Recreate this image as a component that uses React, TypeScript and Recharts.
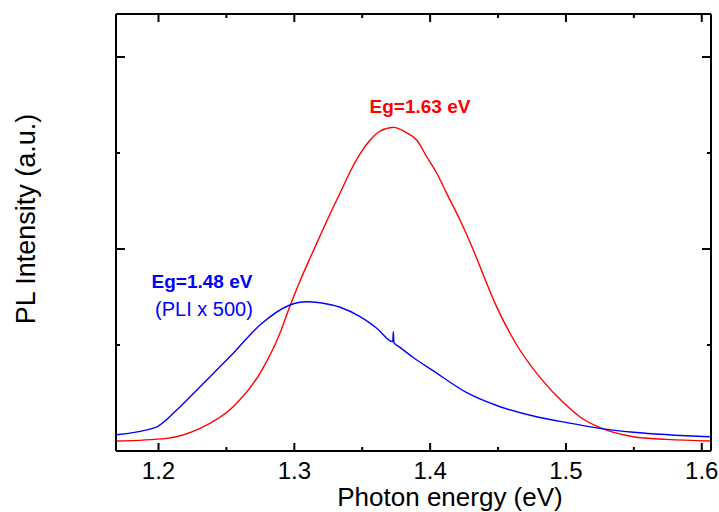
import { Line, LineChart, XAxis, YAxis } from "recharts";

const font = "'Liberation Sans', Arial, sans-serif";

// photon energy (eV) / PL intensity
const redEnergy = [
  1.169, 1.206, 1.2306, 1.255, 1.2747, 1.2895, 1.2968, 1.3042, 1.3116, 1.3189, 1.3263, 1.3337, 1.341,
  1.3484, 1.3558, 1.3631, 1.3729, 1.3828, 1.3901, 1.3975, 1.4049, 1.4122, 1.422, 1.4318, 1.4416,
  1.4478, 1.4638, 1.481, 1.4981, 1.5104, 1.5251, 1.5497, 1.5742, 1.606,
];
const redIntensity = [
  0.0, 0.028, 0.132, 0.357, 0.705, 1.125, 1.406, 1.667, 1.906, 2.135, 2.365, 2.583, 2.802, 2.99,
  3.135, 3.229, 3.267, 3.21, 3.135, 2.961, 2.789, 2.58, 2.302, 1.99, 1.643, 1.434, 1.0, 0.66,
  0.4, 0.25, 0.139, 0.045, 0.017, 0.0,
];

const blueEnergy = [
  1.169, 1.1974, 1.2134, 1.2306, 1.255, 1.2747, 1.2968, 1.3091, 1.319, 1.3337, 1.3484, 1.3607,
  1.3725, 1.3729, 1.3733, 1.3778, 1.3876, 1.4024, 1.427, 1.4515, 1.476, 1.5006, 1.525, 1.5496, 1.606,
];
const blueIntensity = [
  0.066, 0.139, 0.323, 0.566, 0.914, 1.208, 1.417, 1.451, 1.44, 1.393, 1.295, 1.175, 1.035, 1.138,
  1.025, 0.975, 0.87, 0.73, 0.503, 0.357, 0.26, 0.191, 0.132, 0.091, 0.045,
];

const xTicks = [1.2, 1.25, 1.3, 1.35, 1.4, 1.45, 1.5, 1.55, 1.6];
const xMajor = [1.2, 1.3, 1.4, 1.5, 1.6];
const yTicks = [1, 2, 3, 4];
const yMajor = [2, 4];

const redData = redEnergy.map((e, i) => ({ e, v: redIntensity[i] }));
const blueData = blueEnergy.map((e, i) => ({ e, v: blueIntensity[i] }));

const xDomain = [1.1687, 1.6068];
const yDomain = [-0.104, 4.448];

const isMajorX = (v: number) => xMajor.some((m) => Math.abs(m - v) < 1e-6);
const isMajorY = (v: number) => yMajor.some((m) => Math.abs(m - v) < 1e-6);

function BottomTick({ x, y, payload }: any) {
  const major = isMajorX(payload.value);
  return (
    <g>
      <line x1={x} x2={x} y1={y} y2={y - (major ? 8 : 4)} stroke="#000" strokeWidth={2} />
      {major && (
        <text x={x} y={y + 28} textAnchor="middle" fontSize={24} fontFamily={font} fill="#000">
          {payload.value.toFixed(1)}
        </text>
      )}
    </g>
  );
}

function TopTick({ x, y, payload }: any) {
  const major = isMajorX(payload.value);
  return <line x1={x} x2={x} y1={y} y2={y + (major ? 8 : 4)} stroke="#000" strokeWidth={2} />;
}

function LeftTick({ x, y, payload }: any) {
  const major = isMajorY(payload.value);
  return <line x1={x} x2={x + (major ? 9 : 4)} y1={y} y2={y} stroke="#000" strokeWidth={2} />;
}

function RightTick({ x, y, payload }: any) {
  const major = isMajorY(payload.value);
  return <line x1={x} x2={x - (major ? 9 : 4)} y1={y} y2={y} stroke="#000" strokeWidth={2} />;
}

const axisLine = { stroke: "#000", strokeWidth: 2 };

export default function App() {
  return (
    <div style={{ position: "absolute", left: 0, top: 0, background: "#fff" }}>
      <LineChart width={719} height={512} margin={{ top: 13, right: 7, bottom: 60, left: 115 }}>
        <XAxis
          xAxisId="b"
          type="number"
          dataKey="e"
          domain={xDomain}
          ticks={xTicks}
          allowDataOverflow
          height={1}
          tickSize={0}
          tickMargin={0}
          tickLine={false}
          tick={<BottomTick />}
          axisLine={axisLine}
          interval={0}
        />
        <XAxis
          xAxisId="t"
          orientation="top"
          type="number"
          dataKey="e"
          domain={xDomain}
          ticks={xTicks}
          allowDataOverflow
          height={1}
          tickSize={0}
          tickMargin={0}
          tickLine={false}
          tick={<TopTick />}
          axisLine={axisLine}
          interval={0}
        />
        <YAxis
          yAxisId="l"
          type="number"
          domain={yDomain}
          ticks={yTicks}
          allowDataOverflow
          width={1}
          tickSize={0}
          tickMargin={0}
          tickLine={false}
          tick={<LeftTick />}
          axisLine={axisLine}
          interval={0}
        />
        <YAxis
          yAxisId="r"
          orientation="right"
          type="number"
          domain={yDomain}
          ticks={yTicks}
          allowDataOverflow
          width={1}
          tickSize={0}
          tickMargin={0}
          tickLine={false}
          tick={<RightTick />}
          axisLine={axisLine}
          interval={0}
        />
        <Line
          xAxisId="b"
          yAxisId="l"
          data={redData}
          dataKey="v"
          type="monotone"
          stroke="#ff0000"
          strokeWidth={1.4}
          dot={false}
          isAnimationActive={false}
        />
        <Line
          xAxisId="b"
          yAxisId="l"
          data={blueData}
          dataKey="v"
          type="monotone"
          stroke="#0000ff"
          strokeWidth={1.4}
          dot={false}
          isAnimationActive={false}
        />
        <text x={420} y={113} textAnchor="middle" fontSize={19} fontWeight="bold" fontFamily={font} fill="#ff0000">
          Eg=1.63 eV
        </text>
        <text x={202} y={288} textAnchor="middle" fontSize={19} fontWeight="bold" fontFamily={font} fill="#0000ff">
          Eg=1.48 eV
        </text>
        <text x={204} y={316} textAnchor="middle" fontSize={20} fontFamily={font} fill="#0000ff">
          (PLI x 500)
        </text>
        <text x={450} y={506} textAnchor="middle" fontSize={26} fontFamily={font} fill="#000">
          Photon energy (eV)
        </text>
        <text
          x={35}
          y={219}
          textAnchor="middle"
          fontSize={27}
          fontFamily={font}
          fill="#000"
          transform="rotate(-90 35 219)"
        >
          PL Intensity (a.u.)
        </text>
      </LineChart>
    </div>
  );
}
